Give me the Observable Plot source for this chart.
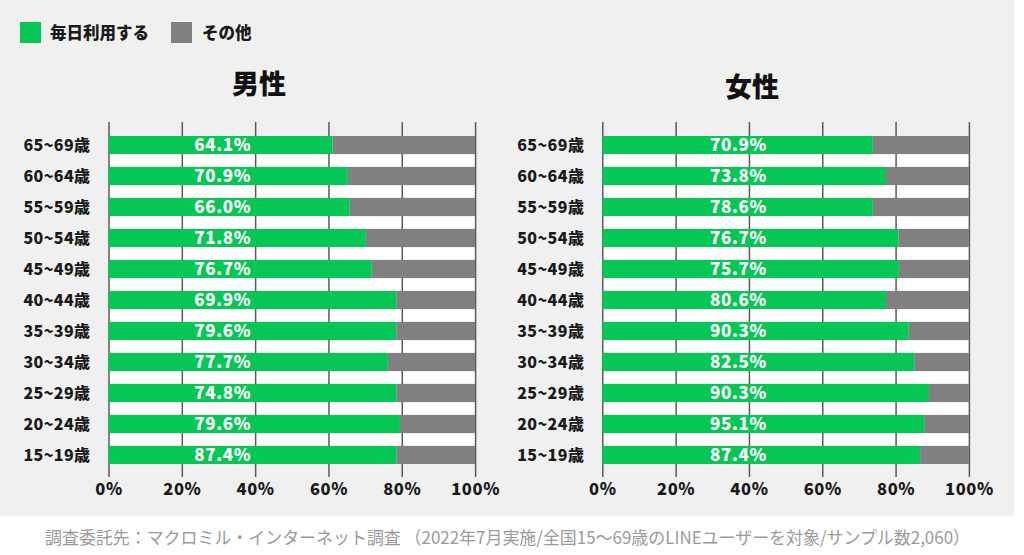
<!DOCTYPE html>
<html>
<head>
<meta charset="utf-8">
<script src="https://cdn.jsdelivr.net/npm/d3@7"></script>
<script src="https://cdn.jsdelivr.net/npm/@observablehq/plot@0.6"></script>
<style>
  html, body { margin: 0; padding: 0; background: #ffffff; }
  #root { position: relative; width: 1024px; height: 555px; overflow: hidden; font-family: "Noto Sans CJK JP", "Noto Sans", sans-serif; }
  #bg { position: absolute; left: 0; top: 0; width: 1014px; height: 516px; background: #f0f0f0; }
  .sw { position: absolute; width: 21px; height: 21px; }
  .lt { position: absolute; font-size: 16.5px; font-weight: 900; color: #1a1a1a; line-height: 21px; }
  .title { position: absolute; font-size: 27px; font-weight: 900; color: #111; line-height: 30px; width: 120px; text-align: center; }
  .panel { position: absolute; top: 110px; }
  #cap { position: absolute; left: 0; top: 518px; }
</style>
</head>
<body>
<div id="root">
  <div id="bg"></div>
  <div class="sw" style="left:20px;top:22px;background:#06c755"></div>
  <div class="lt" style="left:50px;top:22px">毎日利用する</div>
  <div class="sw" style="left:171px;top:22px;background:#808080"></div>
  <div class="lt" style="left:202px;top:22px">その他</div>
  <div class="title" style="left:199px;top:68px">男性</div>
  <div class="title" style="left:692px;top:71px">女性</div>
  <div id="left" class="panel" style="left:0px"></div>
  <div id="right" class="panel" style="left:500px"></div>
  <svg id="cap" width="1024" height="37"></svg>
</div>
<script>
const ages = ["65~69歳","60~64歳","55~59歳","50~54歳","45~49歳","40~44歳","35~39歳","30~34歳","25~29歳","20~24歳","15~19歳"];
const maleLabels = [64.1,70.9,66.0,71.8,76.7,69.9,79.6,77.7,74.8,79.6,87.4];
const maleBars   = [61.1,65.3,65.8,70.2,71.8,78.5,78.5,76.2,78.5,79.5,78.5];
const femaleLabels = [70.9,73.8,78.6,76.7,75.7,80.6,90.3,82.5,90.3,95.1,87.4];
const femaleBars   = [73.8,77.4,73.8,80.8,80.9,77.4,83.6,85.1,89.1,87.8,86.7];
const xTicks = [0,20,40,60,80,100];
const caption = "調査委託先：マクロミル・インターネット調査 （2022年7月実施/全国15〜69歳のLINEユーザーを対象/サンプル数2,060）";

const GREEN = "#06c755", GRAY = "#808080";
const FONT = '"Noto Sans CJK JP", "Noto Sans", sans-serif';

function panel(bars, labels, labelX, mLeft, width) {
  const rows = ages.map((a, i) => ({age: a, bar: bars[i], label: labels[i]}));
  const strips = rows.slice(1);
  const svg = Plot.plot({
    width: width, height: 400,
    marginTop: 12, marginBottom: 33, marginLeft: mLeft, marginRight: width - mLeft - 366.6,
    style: {background: "transparent", fontFamily: FONT, fontSize: "15.5px", fontWeight: 900, color: "#1a1a1a", overflow: "visible"},
    x: {domain: [0, 100], ticks: xTicks, tickFormat: d => d + "%", tickSize: 0, tickPadding: 6, label: null},
    y: {domain: ages, paddingInner: 0.42, paddingOuter: 0.4, tickSize: 0, tickPadding: 18.5, label: null},
    marks: [
      Plot.barX(strips, {y: "age", x1: 0, x2: 100, fill: "#ffffff", dy: -15.6, insetTop: 3.6, insetBottom: 3.6}),
      Plot.ruleX(xTicks, {stroke: "#5a5a5a", strokeWidth: 1.5}),
      Plot.barX(rows, {y: "age", x1: "bar", x2: 100, fill: GRAY}),
      Plot.barX(rows, {y: "age", x1: 0, x2: "bar", fill: GREEN}),
      Plot.text(rows, {y: "age", x: () => labelX, text: d => d.label.toFixed(1) + "%", fill: "#ffffff", fontSize: 17, fontWeight: 900})
    ]
  });
  svg.querySelectorAll('[aria-label^="x-axis"] text').forEach(t => { t.style.fontSize = "16.5px"; t.style.letterSpacing = "0.6px"; });
  svg.querySelectorAll('[aria-label^="y-axis"] text').forEach(t => { t.style.fontSize = "16px"; t.style.letterSpacing = "0.4px"; });
  svg.querySelectorAll('[aria-label="text"] text').forEach(t => { t.style.letterSpacing = "0.6px"; });
  return svg;
}

document.getElementById("left").appendChild(panel(maleBars, maleLabels, 31, 108.5, 500));
document.getElementById("right").appendChild(panel(femaleBars, femaleLabels, 37, 102.3, 524));

const cap = d3.select("#cap");
cap.append("text")
  .attr("x", 45).attr("y", 26)
  .attr("textLength", 925).attr("lengthAdjust", "spacingAndGlyphs")
  .attr("font-family", FONT).attr("font-size", 17.5).attr("fill", "#9a9a9a")
  .text(caption);
</script>
</body>
</html>
